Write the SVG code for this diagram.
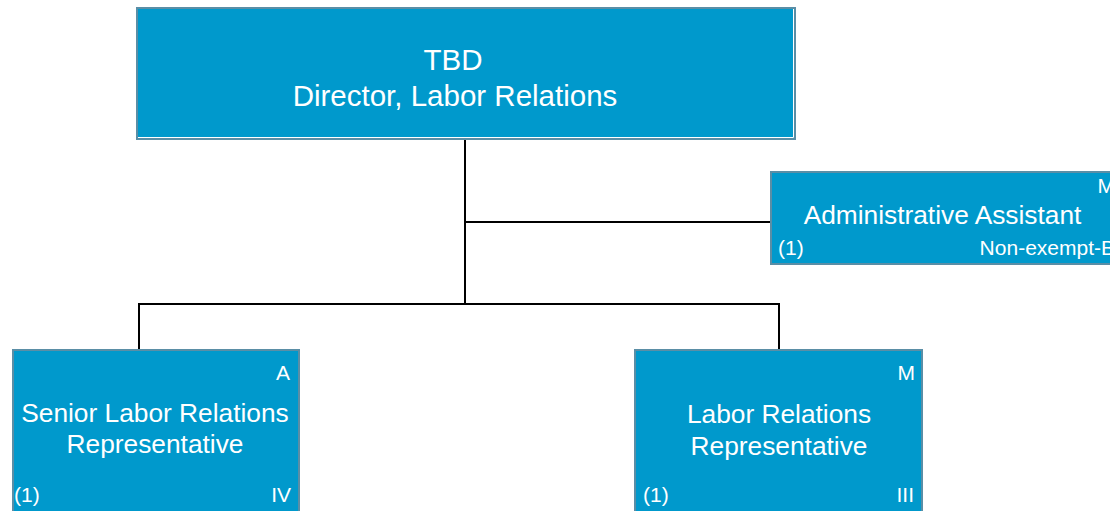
<svg xmlns="http://www.w3.org/2000/svg" width="1110" height="511" viewBox="0 0 1110 511">
<style>
.box{fill:#0099cc;stroke:#5a8ea6;stroke-width:2}
.t{font-family:"Liberation Sans",Arial,sans-serif;fill:#ffffff}
.big{font-size:29.5px;text-anchor:middle}
.mid{font-size:26.3px;text-anchor:middle}
.sm{font-size:21px}
.r{text-anchor:end}
.conn{stroke:#000;stroke-width:2;fill:none}
.hl{stroke:#ffffff;stroke-width:1;fill:none}
</style>
<rect width="1110" height="511" fill="#ffffff"/>
<g id="connectors">
<line class="conn" x1="465" y1="140" x2="465" y2="304"/>
<line class="conn" x1="465" y1="222" x2="771" y2="222"/>
<polyline class="conn" points="139,350 139,304 779,304 779,350"/>
</g>
<g id="director">
<rect class="box" x="137" y="8" width="658" height="131"/>
<polyline class="hl" points="138,137.5 793.5,137.5 793.5,9"/>
<text class="t big" x="453" y="70">TBD</text>
<text class="t big" x="455" y="106">Director, Labor Relations</text>
</g>
<g id="admin">
<rect class="box" x="771" y="172" width="350" height="92"/>
<text class="t sm r" x="1115" y="193">M</text>
<text class="t mid" x="942.5" y="224">Administrative Assistant</text>
<text class="t sm" x="778" y="255">(1)</text>
<text class="t sm r" x="1115" y="255">Non-exempt-B</text>
</g>
<g id="senior">
<rect class="box" x="13" y="350" width="286" height="170"/>
<text class="t sm r" x="290" y="380">A</text>
<text class="t mid" x="155" y="422">Senior Labor Relations</text>
<text class="t mid" x="155" y="453">Representative</text>
<text class="t sm" x="14" y="502">(1)</text>
<text class="t sm r" x="291" y="502">IV</text>
</g>
<g id="lrr">
<rect class="box" x="635" y="350" width="287" height="170"/>
<text class="t sm r" x="915" y="380">M</text>
<text class="t mid" x="779" y="423">Labor Relations</text>
<text class="t mid" x="779" y="455">Representative</text>
<text class="t sm" x="643" y="502">(1)</text>
<text class="t sm r" x="914" y="502">III</text>
</g>
</svg>
